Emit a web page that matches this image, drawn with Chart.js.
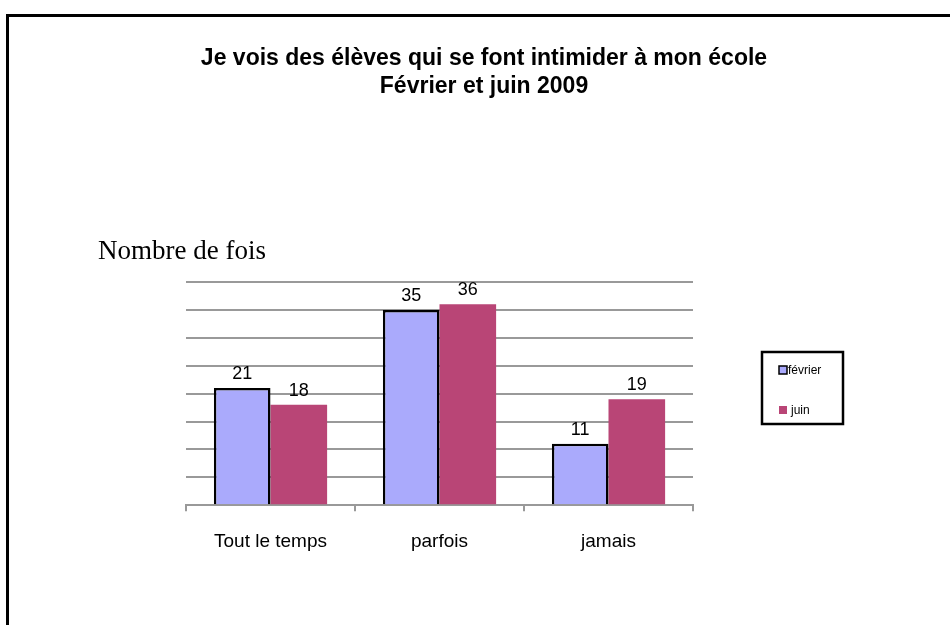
<!DOCTYPE html>
<html>
<head>
<meta charset="utf-8">
<script src="https://cdn.jsdelivr.net/npm/chart.js@4.4.1/dist/chart.umd.min.js"></script>
<style>
    body { margin: 0; background: #fff; overflow: hidden; }
    #frame {
        position: absolute; left: 6px; top: 14px; width: 1000px; height: 700px;
        border-left: 3px solid #000; border-top: 3px solid #000;
    }
    #wrap { position: absolute; left: 0; top: 0; width: 950px; height: 625px; }
</style>
</head>
<body>
<div id="frame"></div>
<div id="wrap"><canvas id="chart" width="950" height="625"></canvas></div>
<script>
// Data
const categories = ['Tout le temps', 'parfois', 'jamais'];
const fevrier = [21, 35, 11];
const juin = [18, 36, 19];
const seriesNames = ['février', 'juin'];
const titleLines = ['Je vois des élèves qui se font intimider à mon école', 'Février et juin 2009'];
const yLabel = 'Nombre de fois';

// Title, y label, value labels and boxed legend
const decorations = {
    id: 'decorations',
    afterDatasetsDraw(chart) {
        const ctx = chart.ctx;
        ctx.save();
        ctx.fillStyle = '#000';
        ctx.textAlign = 'center';
        ctx.textBaseline = 'middle';

        // title
        ctx.font = 'bold 23px "Liberation Sans", Arial, sans-serif';
        titleLines.forEach((line, i) => ctx.fillText(line, 484, 59 + i * 28));

        // y label
        ctx.font = '27px "Liberation Serif", "Times New Roman", serif';
        ctx.textAlign = 'left';
        ctx.fillText(yLabel, 98, 252);

        // value labels
        ctx.textAlign = 'center';
        ctx.font = '18px "Liberation Sans", Arial, sans-serif';
        chart.data.datasets.forEach((ds, i) => {
            chart.getDatasetMeta(i).data.forEach((bar, j) => {
                ctx.fillText(ds.data[j], bar.x, bar.y - 14);
            });
        });

        // legend box
        ctx.lineWidth = 2.5;
        ctx.strokeStyle = '#000';
        ctx.strokeRect(762, 352, 81, 72);
        ctx.font = '12px "Liberation Sans", Arial, sans-serif';
        ctx.textAlign = 'left';
        chart.data.datasets.forEach((ds, i) => {
            const y = 370 + i * 40;
            ctx.fillStyle = ds.backgroundColor;
            ctx.fillRect(779, y - 4, 8, 8);
            if (ds.borderWidth) {
                ctx.lineWidth = 1.5;
                ctx.strokeRect(779, y - 4, 8, 8);
            }
            ctx.fillStyle = '#000';
            ctx.fillText(ds.label, i === 0 ? 788 : 791, y + 1);
        });
        ctx.restore();
    }
};

new Chart(document.getElementById('chart'), {
    type: 'bar',
    data: {
        labels: categories,
        datasets: [
            {
                label: seriesNames[0],
                data: fevrier,
                backgroundColor: '#aaaafc',
                borderColor: '#000',
                borderWidth: 2.5,
                borderSkipped: 'bottom'
            },
            {
                label: seriesNames[1],
                data: juin,
                backgroundColor: '#b94576',
                borderWidth: 0
            }
        ]
    },
    options: {
        responsive: false,
        animation: false,
        layout: { padding: { left: 186, right: 257, top: 282, bottom: 53 } },
        datasets: { bar: { categoryPercentage: 0.67, barPercentage: 1 } },
        plugins: {
            legend: { display: false },
            title: { display: false },
            tooltip: { enabled: false }
        },
        scales: {
            x: {
                grid: {
                    offset: true,
                    drawOnChartArea: false,
                    color: '#999',
                    lineWidth: 2,
                    tickLength: 6
                },
                border: { color: '#999', width: 2 },
                ticks: {
                    color: '#000',
                    padding: 19,
                    font: { family: '"Liberation Sans", Arial, sans-serif', size: 19 }
                }
            },
            y: {
                min: 0,
                max: 40,
                ticks: { stepSize: 5, display: false },
                grid: { color: '#999', lineWidth: 2, drawTicks: false },
                border: { display: false }
            }
        }
    },
    plugins: [decorations]
});
</script>
</body>
</html>
